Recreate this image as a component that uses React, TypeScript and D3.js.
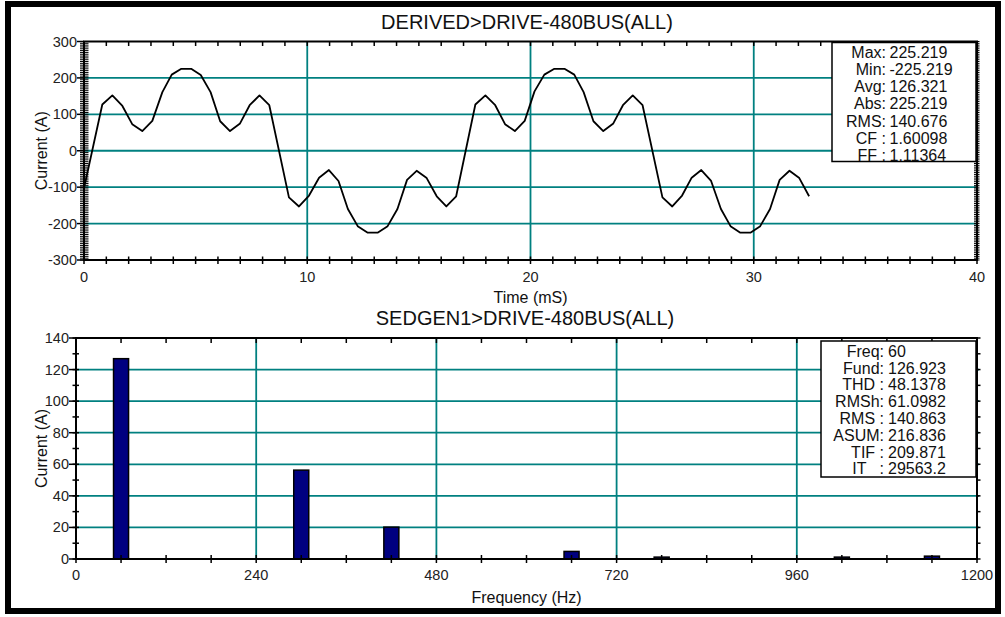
import React from 'react';
import * as d3 from 'd3';

// ---- data ----
const waveTime = [
  0, 0.82, 1.27, 1.72, 2.16, 2.61, 3.06, 3.51, 3.93, 4.36, 4.8, 5.23, 5.67, 6.1, 6.54, 6.99, 7.42, 7.86, 8.3,
  9.18, 9.63, 10.08, 10.53, 10.97, 11.4, 11.82, 12.26, 12.71, 13.15, 13.6, 14.04, 14.47, 14.9, 15.35, 15.8, 16.23, 16.67,
  17.53, 17.98, 18.42, 18.86, 19.3, 19.74, 20.18, 20.62, 21.07, 21.52, 21.96, 22.38, 22.82, 23.26, 23.71, 24.14, 24.58, 25.02,
  25.91, 26.35, 26.79, 27.22, 27.65, 28.09, 28.53, 28.96, 29.4, 29.85, 30.29, 30.73, 31.16, 31.6, 32.04, 32.48,
];
const waveCurrent = [
  -103, 127, 152, 123, 73, 54, 82, 161, 209, 225, 225, 208, 161, 81, 54, 75, 125, 152, 125,
  -128, -153, -123, -74, -53, -83, -160, -207, -225, -225, -207, -160, -80, -55, -75, -125, -153, -125,
  127, 152, 125, 73, 54, 82, 163, 209, 225, 225, 209, 161, 81, 54, 75, 125, 152, 125,
  -128, -153, -123, -74, -53, -83, -160, -207, -225, -225, -207, -160, -80, -55, -75, -125,
];
const harmonicFreq = [60, 300, 420, 660, 780, 1020, 1140];
const harmonicAmp = [126.9, 56.3, 20.2, 4.8, 1.2, 1.2, 1.8];

const topXTicks = [0, 10, 20, 30, 40];
const topYTicks = [-300, -200, -100, 0, 100, 200, 300];
const botXTicks = [0, 240, 480, 720, 960, 1200];
const botYTicks = [0, 20, 40, 60, 80, 100, 120, 140];

const topTitle = 'DERIVED>DRIVE-480BUS(ALL)';
const botTitle = 'SEDGEN1>DRIVE-480BUS(ALL)';
const topStatLabels = ['Max:', 'Min:', 'Avg:', 'Abs:', 'RMS:', 'CF :', 'FF :'];
const topStatValues = ['225.219', '-225.219', '126.321', '225.219', '140.676', '1.60098', '1.11364'];
const botStatLabels = ['Freq:', 'Fund:', 'THD :', 'RMSh:', 'RMS :', 'ASUM:', 'TIF :', 'IT   :'];
const botStatValues = ['60', '126.923', '48.1378', '61.0982', '140.863', '216.836', '209.871', '29563.2'];

const FONT = "'Liberation Sans', Arial, Helvetica, sans-serif";
const GRID = '#008080';

export default function App() {
  // top chart scales
  const xT = d3.scaleLinear().domain([0, 40]).range([84, 977]);
  const yT = d3.scaleLinear().domain([-300, 300]).range([260, 41.5]);
  // bottom chart scales
  const xB = d3.scaleLinear().domain([0, 1200]).range([76, 977]);
  const yB = d3.scaleLinear().domain([0, 140]).range([559, 338]);

  const line = d3
    .line<number>()
    .x((_, i) => xT(waveTime[i]))
    .y((d) => yT(d));
  const wavePath = line(waveCurrent) || '';

  const topMinorY = d3.range(-300, 301, 5);
  const topMinorX = d3.range(0, 41, 1);
  const botMinorY = d3.range(0, 141, 10);
  const botMinorX = d3.range(0, 1201, 60);
  const barW = xB(20) - xB(0);

  const [tx0, tx1] = xT.range();
  const [ty0, ty1] = [yT(300), yT(-300)];
  const [bx0, bx1] = xB.range();
  const [by0, by1] = [yB(140), yB(0)];

  return (
    <svg
      width={1005}
      height={617}
      style={{ position: 'absolute', left: 0, top: 0, background: '#fff' }}
      fontFamily={FONT}
    >
      <rect x={0} y={0} width={1005} height={617} fill="#fff" />

      {/* ===== TOP CHART ===== */}
      <text x={527} y={29} fontSize={20} textAnchor="middle" fill="#111">
        {topTitle}
      </text>
      {/* grid */}
      {topYTicks
        .filter((v) => v > -300 && v < 300)
        .map((v) => (
          <line key={'tgy' + v} x1={tx0} x2={tx1} y1={yT(v)} y2={yT(v)} stroke={GRID} strokeWidth={1.8} />
        ))}
      {topXTicks
        .filter((v) => v > 0 && v < 40)
        .map((v) => (
          <line key={'tgx' + v} x1={xT(v)} x2={xT(v)} y1={ty0} y2={ty1} stroke={GRID} strokeWidth={1.8} />
        ))}
      {/* waveform */}
      <path d={wavePath} fill="none" stroke="#000" strokeWidth={1.8} strokeLinejoin="round" />
      {/* frame */}
      <rect x={tx0} y={ty0} width={tx1 - tx0} height={ty1 - ty0} fill="none" stroke="#000" strokeWidth={2} />
      {/* minor y ticks left/right */}
      {topMinorY.map((v) => (
        <g key={'tmy' + v}>
          <line x1={tx0 - 4} x2={tx0 + 4.5} y1={yT(v)} y2={yT(v)} stroke="#000" strokeWidth={1} />
          <line x1={tx1 - 3} x2={tx1 + 2.5} y1={yT(v)} y2={yT(v)} stroke="#000" strokeWidth={1} />
        </g>
      ))}
      {topYTicks.map((v) => (
        <line key={'tMy' + v} x1={tx0 - 7} x2={tx0} y1={yT(v)} y2={yT(v)} stroke="#000" strokeWidth={1.5} />
      ))}
      {/* x ticks */}
      {topMinorX.map((v) => (
        <g key={'tmx' + v}>
          <line x1={xT(v)} x2={xT(v)} y1={ty0} y2={ty0 + 4.5} stroke="#000" strokeWidth={1.5} />
          <line x1={xT(v)} x2={xT(v)} y1={ty1 - 3.5} y2={ty1 + 4} stroke="#000" strokeWidth={1.5} />
        </g>
      ))}
      {/* tick labels */}
      {topYTicks.map((v) => (
        <text key={'tly' + v} x={77} y={yT(v) + 5} fontSize={14.5} textAnchor="end" fill="#222">
          {v}
        </text>
      ))}
      {topXTicks.map((v) => (
        <text key={'tlx' + v} x={xT(v)} y={282} fontSize={14.5} textAnchor="middle" fill="#222">
          {v}
        </text>
      ))}
      <text x={(tx0 + tx1) / 2} y={303} fontSize={16} textAnchor="middle" fill="#111">
        Time (mS)
      </text>
      <text
        transform={`translate(47,${(ty0 + ty1) / 2}) rotate(-90)`}
        fontSize={16}
        textAnchor="middle"
        fill="#111"
      >
        Current (A)
      </text>
      {/* stats box */}
      <rect x={832} y={42.5} width={144} height={119} fill="#fff" stroke="#000" strokeWidth={1.5} />
      {topStatLabels.map((l, i) => (
        <g key={'ts' + i}>
          <text x={886} y={58.3 + i * 17.05} fontSize={16} textAnchor="end" fill="#111" style={{ whiteSpace: 'pre' }}>
            {l}
          </text>
          <text x={889.5} y={58.3 + i * 17.05} fontSize={16} fill="#111">
            {topStatValues[i]}
          </text>
        </g>
      ))}

      {/* ===== BOTTOM CHART ===== */}
      <text x={525} y={325} fontSize={20} textAnchor="middle" fill="#111">
        {botTitle}
      </text>
      {botYTicks
        .filter((v) => v > 0 && v < 140)
        .map((v) => (
          <line key={'bgy' + v} x1={bx0} x2={bx1 + 2} y1={yB(v)} y2={yB(v)} stroke={GRID} strokeWidth={1.8} />
        ))}
      {botXTicks
        .filter((v) => v > 0 && v < 1200)
        .map((v) => (
          <line key={'bgx' + v} x1={xB(v)} x2={xB(v)} y1={by0} y2={by1} stroke={GRID} strokeWidth={1.8} />
        ))}
      {harmonicFreq.map((f, i) => (
        <rect
          key={'bar' + f}
          x={xB(f) - barW / 2}
          y={yB(harmonicAmp[i])}
          width={barW}
          height={yB(0) - yB(harmonicAmp[i])}
          fill="#000080"
          stroke="#000"
          strokeWidth={1.5}
        />
      ))}
      <rect x={bx0} y={by0} width={bx1 - bx0} height={by1 - by0} fill="none" stroke="#000" strokeWidth={2} />
      {botMinorY.map((v) => (
        <g key={'bmy' + v}>
          <line x1={bx0 - 3.5} x2={bx0 + 3} y1={yB(v)} y2={yB(v)} stroke="#000" strokeWidth={1.5} />
          <line x1={bx1} x2={bx1 + 3.5} y1={yB(v)} y2={yB(v)} stroke="#000" strokeWidth={1.5} />
        </g>
      ))}
      {botYTicks.map((v) => (
        <line key={'bMy' + v} x1={bx0 - 7} x2={bx0} y1={yB(v)} y2={yB(v)} stroke="#000" strokeWidth={1.5} />
      ))}
      {botMinorX.map((v) => (
        <g key={'bmx' + v}>
          <line x1={xB(v)} x2={xB(v)} y1={by0} y2={by0 + 5} stroke="#000" strokeWidth={1.5} />
          <line x1={xB(v)} x2={xB(v)} y1={by1 - 4} y2={by1 + 4} stroke="#000" strokeWidth={1.5} />
        </g>
      ))}
      {botYTicks.map((v) => (
        <text key={'bly' + v} x={69} y={yB(v) + 5} fontSize={14.5} textAnchor="end" fill="#222">
          {v}
        </text>
      ))}
      {botXTicks.map((v) => (
        <text key={'blx' + v} x={xB(v)} y={580} fontSize={14.5} textAnchor="middle" fill="#222">
          {v}
        </text>
      ))}
      <text x={(bx0 + bx1) / 2} y={603} fontSize={16} textAnchor="middle" fill="#111">
        Frequency (Hz)
      </text>
      <text
        transform={`translate(47,${(by0 + by1) / 2}) rotate(-90)`}
        fontSize={16}
        textAnchor="middle"
        fill="#111"
      >
        Current (A)
      </text>
      <rect x={821} y={341} width={155} height={136} fill="#fff" stroke="#000" strokeWidth={1.5} />
      {botStatLabels.map((l, i) => (
        <g key={'bs' + i}>
          <text x={884} y={356.7 + i * 16.8} fontSize={16} textAnchor="end" fill="#111" style={{ whiteSpace: 'pre' }}>
            {l}
          </text>
          <text x={888} y={356.7 + i * 16.8} fontSize={16} fill="#111">
            {botStatValues[i]}
          </text>
        </g>
      ))}

      {/* outer frame */}
      <rect x={8} y={4} width={990} height={607} fill="none" stroke="#000" strokeWidth={6} />
    </svg>
  );
}
